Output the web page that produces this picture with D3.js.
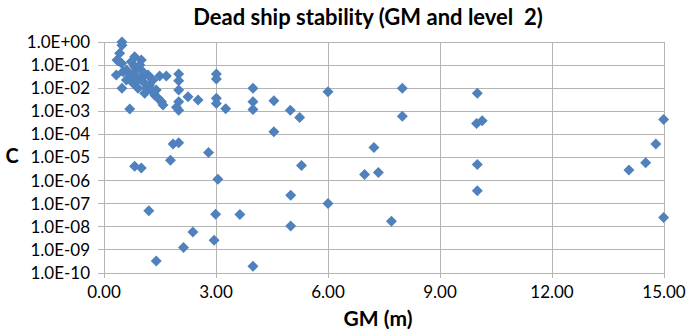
<!DOCTYPE html>
<html>
<head>
<meta charset="utf-8">
<script src="https://cdn.jsdelivr.net/npm/d3@7"></script>
<style>
  body { margin: 0; background: #fff; }
  svg { display: block; font-family: Lato, "Open Sans", sans-serif; }
</style>
</head>
<body>
<div id="chart"></div>
<script>
// GM (m) against C
const gmValues = [
  0.48, 0.48, 0.42, 0.35, 0.38, 0.33, 0.48, 0.69, 0.82, 1.00,
  0.47, 0.51, 0.73, 0.60, 0.69, 0.78, 0.87, 0.91, 1.00, 1.09,
  1.14, 1.22, 1.27, 1.36, 1.45, 1.54, 1.58, 1.18, 1.31, 0.96,
  0.82, 1.04, 0.60, 0.78, 0.91, 0.87, 1.40, 1.09, 1.49, 1.67,
  2.00, 2.00, 2.00, 2.25, 2.00, 1.94, 2.00, 2.52, 3.01, 3.01,
  3.01, 3.01, 3.26, 3.99, 3.99, 3.99, 4.55, 4.55, 4.99, 5.24,
  6.00, 1.85, 2.00, 1.78, 2.80, 0.82, 1.00, 5.29, 3.05, 5.00,
  6.00, 1.20, 2.99, 3.64, 5.00, 2.38, 2.13, 2.95, 1.40, 3.99,
  7.99, 7.99, 7.23, 10.00, 9.98, 10.13, 14.99, 14.78, 14.51, 10.00,
  14.06, 6.98, 7.35, 10.00, 7.70, 14.99
];
// log10 of C for each point above
const logC = [
  0.00, -0.14, -0.49, -0.78, -0.82, -1.43, -2.00, -2.90, -0.64, -0.78,
  -0.92, -1.29, -0.85, -1.21, -1.50, -1.36, -1.14, -1.65, -1.57, -1.79,
  -2.00, -1.86, -2.08, -2.30, -2.44, -2.59, -2.73, -1.43, -1.65, -1.00,
  -1.07, -1.29, -1.65, -1.79, -2.00, -1.50, -2.08, -2.22, -1.47, -1.47,
  -1.39, -1.68, -2.08, -2.37, -2.59, -2.83, -2.95, -2.51, -1.39, -1.60,
  -2.44, -2.66, -2.89, -2.00, -2.59, -2.92, -2.54, -3.89, -2.95, -3.27,
  -2.15, -4.42, -4.36, -5.12, -4.78, -5.38, -5.45, -5.35, -5.94, -6.63,
  -6.99, -7.31, -7.46, -7.47, -7.96, -8.22, -8.90, -8.58, -9.48, -9.71,
  -2.00, -3.21, -4.57, -2.22, -3.53, -3.41, -3.35, -4.42, -5.23, -5.30,
  -5.54, -5.74, -5.65, -6.44, -7.76, -7.60
];
const xTicks = [0, 3, 6, 9, 12, 15];
const yTicks = [1, 1e-1, 1e-2, 1e-3, 1e-4, 1e-5, 1e-6, 1e-7, 1e-8, 1e-9, 1e-10];

const W = 686, H = 334;
const margin = { top: 42, right: 22, bottom: 61, left: 104 };
const GRID = '#b4b4b4';
const DOT = '#4f81bd';

const svg = d3.select('#chart').append('svg').attr('width', W).attr('height', H);

const x = d3.scaleLinear().domain([0, 15]).range([margin.left, W - margin.right]);
const y = d3.scaleLog().domain([1e-10, 1]).range([H - margin.bottom, margin.top]);

// ---- grid ----
svg.append('g').selectAll('line').data(yTicks).join('line')
  .attr('x1', margin.left - 6).attr('x2', W - margin.right)
  .attr('y1', (d) => y(d)).attr('y2', (d) => y(d))
  .attr('stroke', GRID).attr('shape-rendering', 'crispEdges');
svg.append('g').selectAll('line').data(xTicks).join('line')
  .attr('x1', (d) => x(d)).attr('x2', (d) => x(d))
  .attr('y1', margin.top).attr('y2', H - margin.bottom + 5)
  .attr('stroke', GRID).attr('shape-rendering', 'crispEdges');

// ---- tick labels ----
const fmtY = (d) => {
  const e = Math.round(Math.log10(d));
  return '1.0E' + (e >= 0 ? '+' : '-') + String(Math.abs(e)).padStart(2, '0');
};
svg.append('g').selectAll('text').data(yTicks).join('text')
  .attr('x', margin.left - 14).attr('y', (d) => y(d))
  .attr('dy', '0.35em').attr('text-anchor', 'end')
  .attr('font-size', 17).attr('fill', '#000')
  .text(fmtY);
svg.append('g').selectAll('text').data(xTicks).join('text')
  .attr('x', (d) => x(d)).attr('y', H - margin.bottom + 25)
  .attr('text-anchor', 'middle')
  .attr('font-size', 17).attr('fill', '#000')
  .text((d) => d3.format('.2f')(d));

// ---- points ----
const diamond = 'M0,-5.5L5.5,0L0,5.5L-5.5,0Z';
svg.append('g').selectAll('path').data(gmValues).join('path')
  .attr('transform', (d, i) => `translate(${x(d)},${y(Math.pow(10, logC[i]))})`)
  .attr('d', diamond)
  .attr('fill', DOT);

// ---- titles ----
svg.append('text')
  .attr('x', 368).attr('y', 25).attr('text-anchor', 'middle')
  .attr('font-size', 22).attr('font-weight', 'bold')
  .style('white-space', 'pre')
  .text('Dead ship stability (GM and level  2)');
svg.append('text')
  .attr('x', 378).attr('y', 326).attr('text-anchor', 'middle')
  .attr('font-size', 21).attr('font-weight', 'bold')
  .text('GM (m)');
svg.append('text')
  .attr('x', 12).attr('y', 163).attr('text-anchor', 'middle')
  .attr('font-size', 20).attr('font-weight', 'bold')
  .text('C');
</script>
</body>
</html>
